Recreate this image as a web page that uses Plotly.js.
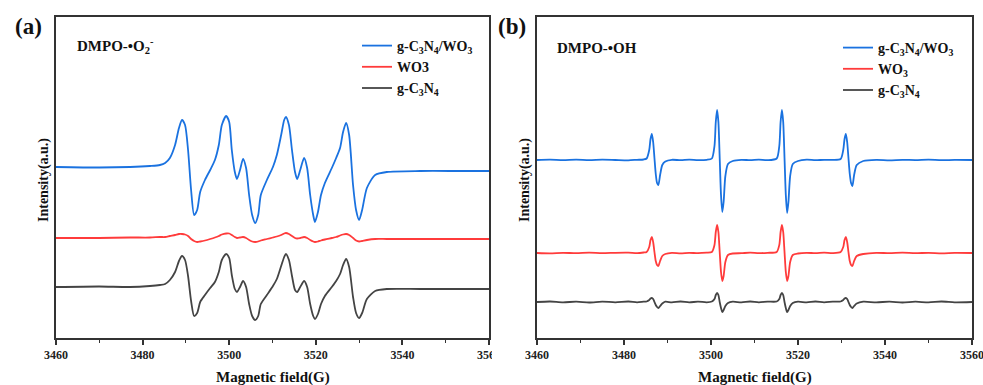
<!DOCTYPE html>
<html>
<head>
<meta charset="utf-8">
<script src="https://cdn.plot.ly/plotly-3.0.1.min.js"></script>
<style>html,body{margin:0;padding:0;background:#fff;}#chart{width:983px;height:385px;}</style>
</head>
<body>
<div id="chart"></div>
<script>
// ---------- DATA ----------
// Panel (a): DMPO-•O2- spectra (magnetic field in G, intensity in a.u. relative to each baseline)
const fieldA = [3460,3470,3477.1,3481.7,3484.0,3485.2,3486.3,3487.5,3488.4,3489.1,3489.8,3490.5,3491.2,3491.9,3492.6,3493.3,3494.4,3495.6,3496.7,3497.6,3498.3,3499.3,3500.0,3500.6,3501.3,3501.8,3502.5,3503.2,3503.9,3504.6,3505.3,3506.0,3506.7,3507.3,3508.7,3510.1,3511.0,3512.0,3512.7,3513.1,3513.8,3514.5,3515.2,3515.7,3516.4,3517.3,3518.0,3518.7,3519.4,3519.8,3520.5,3521.2,3522.1,3523.7,3524.7,3525.6,3526.3,3527.0,3527.7,3528.6,3529.3,3530.0,3530.7,3531.8,3533.7,3536.4,3544.1,3553.3,3560];
const compositeA = [1,0.5,1,2,3,5,10,23,40,48,43,18,-22,-47,-42,-24,-12,-2,8,23,43,52,46,18,-4,-11,-2,9,0,-27,-47,-55,-47,-27,-12,1,13,33,48,51,43,18,-4,-11,-2,10,0,-27,-47,-54,-44,-27,-15,0,10,20,36,45,33,-17,-42,-52,-42,-20,-7,-4,-3,-3,-3];
const wo3A = [0,0,0.5,0.5,1,1,2,3,4,4,3.5,2,-1,-3,-4,-3.5,-2.5,-1,0.5,2,3.5,4.5,4.5,3,1,0,0.5,1,0,-2,-3.5,-4,-3.5,-2.5,-1,0.5,1.5,3,4.5,5,4,2,0,-0.5,0,1,0,-2,-3.5,-4,-3.5,-2.5,-1.5,0,1,2.5,3.5,4,3,0,-2.5,-3.5,-3,-2,-1,-1,-1,-1,-1];
const cnA = [0,0.5,0,1,2,3,7,15,26,31,27,11,-14,-29,-26,-15,-8,-1,5,15,27,33,29,12,-2,-5,0,6,0,-17,-29,-33,-29,-17,-8,1,8,21,30,33,27,11,-3,-5,0,6,0,-17,-29,-32,-27,-17,-9,0,6,13,22,28,20,-10,-26,-31,-26,-12,-4,-2,-2,-2,-2];

// Panel (b): DMPO-•OH spectra
const fieldB = [3460,3463,3466,3469,3472,3475,3478,3481,3483,3484.5,3485.2,3485.8,3486.1,3486.4,3486.7,3487.0,3487.3,3487.6,3487.9,3488.3,3488.8,3489.5,3491,3493,3495,3497,3499,3500.2,3500.8,3501.1,3501.4,3501.7,3502.0,3502.3,3502.6,3502.9,3503.3,3503.9,3505,3507,3509,3511,3513,3515.1,3515.7,3516.0,3516.3,3516.6,3516.9,3517.2,3517.5,3517.8,3518.2,3518.8,3520,3522,3524,3526,3528,3529.8,3530.4,3530.7,3531.0,3531.3,3531.6,3531.9,3532.2,3532.5,3532.9,3533.5,3535,3538,3541,3544,3547,3550,3553,3556,3560];
const compositeB = [0,0.3,-0.2,0.3,-0.2,0.3,0,-0.3,0.2, 0.5,1.5,10,21,26,18,2,-14,-23,-25,-15,-5,-1.5, 0.2,-0.2,0.3,-0.1,0.2, 1.5,14,38,50,38,2,-35,-52,-42,-16,-4,-1, 0.2,-0.2,0.3,-0.2, 1.5,14,38,50,38,2,-35,-53,-42,-16,-4,-1, 0.3,-0.2,0.2,0.1, 1,10,21,26,18,2,-14,-23,-26,-15,-5,-1, 0.2,-0.3,0.2,-0.1,0.3,-0.2,0.1,0];
const wo3B = [0,-0.3,0.2,-0.2,0.3,-0.2,0.2,0.3,-0.1, 0.5,1,6,13,16,11,1,-8,-12,-13,-8,-3,-1, 0.2,-0.3,0.2,-0.2,0.3, 1,8,21,28,21,1,-19,-28,-23,-9,-2,-0.5, -0.2,0.3,-0.2,0.2, 1,8,21,28,21,1,-19,-28,-23,-9,-2,-0.5, 0.2,-0.2,0.3,-0.1, 1,6,13,16,11,1,-8,-12,-13,-8,-3,-1, 0.2,-0.2,0.3,-0.2,0.2,-0.3,0.1,0];
const cnB = [0,0.5,-0.4,0.4,-0.5,0.4,-0.3,0.5,-0.3, 0.3,0.5,2,3.5,4,3,0,-3,-5,-6,-4,-1.5,0.3, -0.4,0.5,-0.4,0.4,-0.3, 0.5,3,7,9,7,0,-6,-10,-8,-4,-1,0.3, -0.4,0.5,-0.4,0.4, 0.5,3,7,9,7,0,-6,-10,-8,-4,-1,0.3, -0.4,0.5,-0.3,0.4, 0.5,2,3.5,4,3,0,-3,-5,-6,-4,-1.5,0.3, -0.4,0.4,-0.5,0.3,-0.4,0.5,-0.3,0];

// Series names and labels
const namesA = ['g-C<sub>3</sub>N<sub>4</sub>/WO<sub>3</sub>', 'WO3', 'g-C<sub>3</sub>N<sub>4</sub>'];
const namesB = ['g-C<sub>3</sub>N<sub>4</sub>/WO<sub>3</sub>', 'WO<sub>3</sub>', 'g-C<sub>3</sub>N<sub>4</sub>'];
const xTicks = [3460,3480,3500,3520,3540,3560];
const xTickText = ['3460','3480','3500','3520','3540','3560'];
const xMinorTicks = [3470,3490,3510,3530,3550];

// Vertical stacking offsets of the spectra (a.u.)
const stackA = [170, 100, 51];
const stackB = [178, 85, 36];

// ---------- STYLE ----------
const colors = ['#1a72e0', '#ff3b3b', '#444444'];
const FONT = 'Liberation Serif, Times New Roman, serif';

function shift(arr, off){ return arr.map(v => v + off); }
const bold = s => '<b>' + s + '</b>';

const seriesA = [compositeA, wo3A, cnA];
const seriesB = [compositeB, wo3B, cnB];
const traces = [];
seriesA.forEach((s,i) => traces.push({
  x: fieldA, y: shift(s, stackA[i]), type:'scatter', mode:'lines', name: bold(namesA[i]),
  line:{color:colors[i], width:1.8, shape:'spline', smoothing:0.7},
  xaxis:'x', yaxis:'y', legend:'legend'
}));
seriesB.forEach((s,i) => traces.push({
  x: fieldB, y: shift(s, stackB[i]), type:'scatter', mode:'lines', name: bold(namesB[i]),
  line:{color:colors[i], width:1.8, shape:'spline', smoothing:0.7},
  xaxis:'x2', yaxis:'y2', legend:'legend2'
}));

const W = 983, H = 385;
const px = v => v / W, py = v => 1 - v / H;

function xax(domain, anchor){
  return {
    domain: domain, anchor: anchor, range:[3460,3560], tickmode:'array',
    tickvals: xTicks, ticktext: xTickText.map(bold),
    ticks:'outside', ticklen:5, tickwidth:1.5, tickcolor:'#333',
    minor:{tickvals:xMinorTicks, ticks:'outside', ticklen:3, tickwidth:1.2, tickcolor:'#333'},
    showline:true, linecolor:'#333', linewidth:1.6, mirror:true,
    showgrid:false, zeroline:false, ticklabeloverflow:'allow',
    tickfont:{family:FONT, size:12, color:'#222'}
  };
}
function yax(anchor){
  return {
    domain:[py(338), py(17)], anchor: anchor, range:[0,321],
    showticklabels:false, ticks:'', showgrid:false, zeroline:false,
    showline:true, linecolor:'#333', linewidth:1.6, mirror:true
  };
}

const annFont = (size) => ({family:FONT, size:size, color:'#111'});
const ann = (text, x, y, size, extra) => Object.assign({text:bold(text), xref:'paper', yref:'paper', x:px(x), y:py(y),
  xanchor:'center', yanchor:'middle', showarrow:false, font:annFont(size)}, extra || {});
const layout = {
  width:W, height:H, margin:{l:0,r:0,t:0,b:0},
  paper_bgcolor:'#fff', plot_bgcolor:'#fff', showlegend:true,
  font:{family:FONT, size:14, color:'#111'},
  xaxis: xax([px(56), px(489)], 'y'),
  yaxis: yax('x'),
  xaxis2: xax([px(537), px(972)], 'y2'),
  yaxis2: yax('x2'),
  legend:{x:px(357), y:py(30), xanchor:'left', yanchor:'top', bgcolor:'rgba(0,0,0,0)',
          font:{family:FONT, size:14, color:'#111'}, tracegroupgap:0},
  legend2:{x:px(838), y:py(32), xanchor:'left', yanchor:'top', bgcolor:'rgba(0,0,0,0)',
          font:{family:FONT, size:14, color:'#111'}, tracegroupgap:0},
  shapes:[
    {type:'rect', xref:'paper', yref:'paper', x0:px(492), x1:px(507), y0:py(366), y1:py(342),
     fillcolor:'#fff', line:{width:0}, layer:'above'}
  ],
  annotations:[
    ann('(a)', 28, 26, 23),
    ann('(b)', 512, 26, 23),
    ann('DMPO-•O<sub>2</sub><sup>-</sup>', 75, 46, 15, {xanchor:'left'}),
    ann('DMPO-•OH', 555, 48, 15, {xanchor:'left'}),
    ann('Intensity(a.u.)', 44, 180, 14, {textangle:-90}),
    ann('Intensity(a.u.)', 525, 180, 14, {textangle:-90}),
    ann('Magnetic field(G)', 272.5, 377, 15),
    ann('Magnetic field(G)', 754.5, 377, 15)
  ]
};

Plotly.newPlot('chart', traces, layout, {displayModeBar:false});
</script>
</body>
</html>
